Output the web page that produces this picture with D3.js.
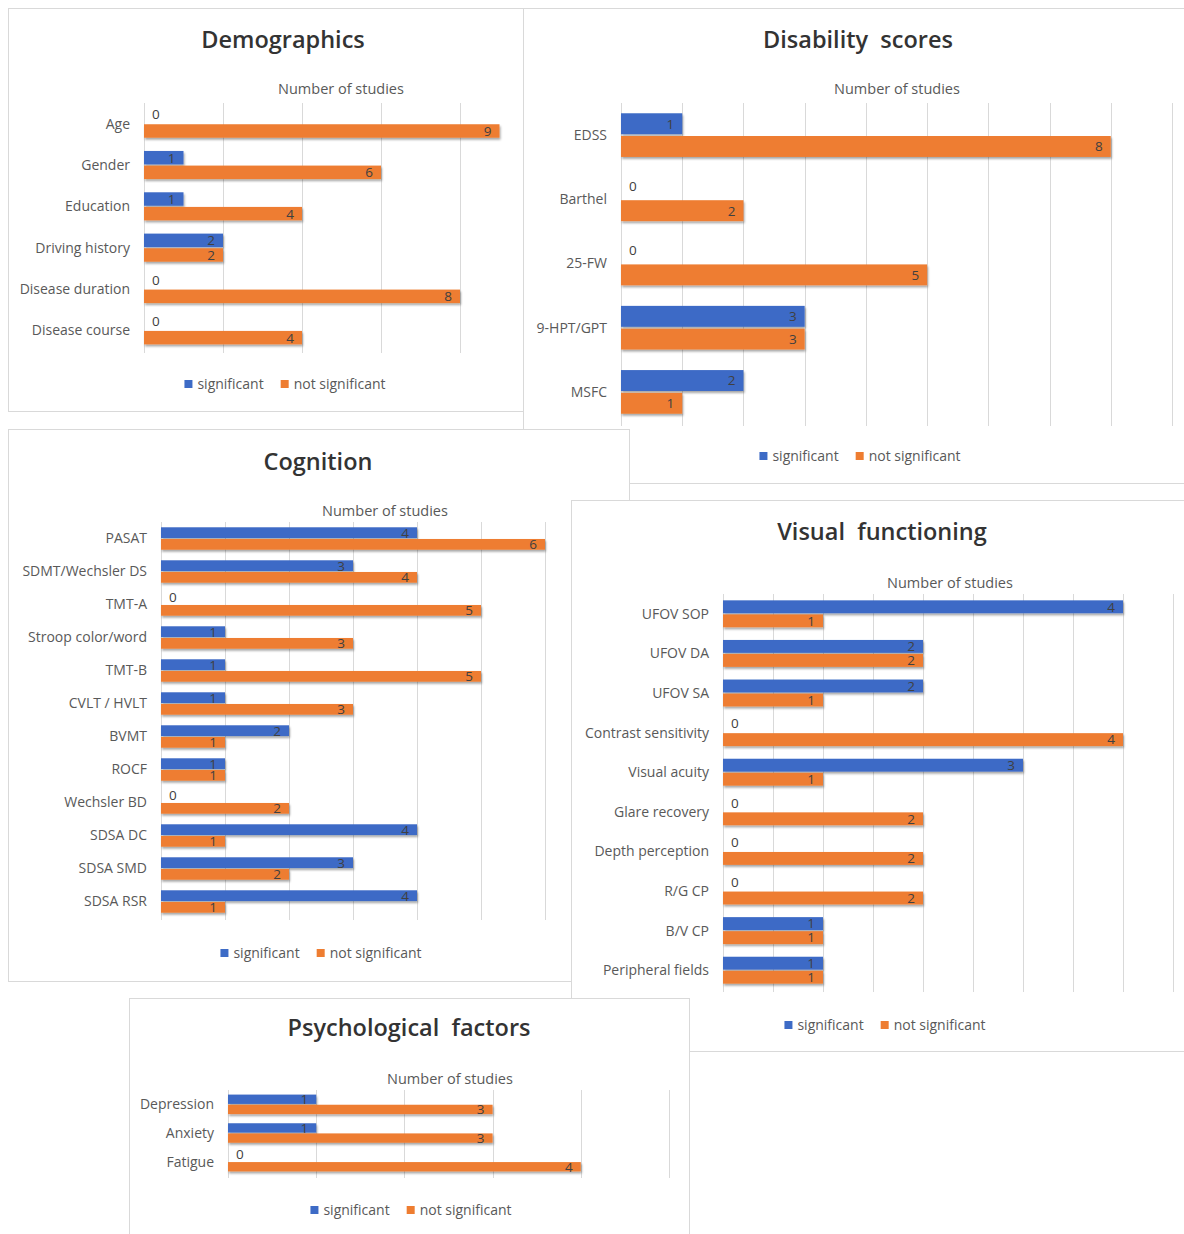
<!DOCTYPE html>
<html>
<head>
<meta charset="utf-8">
<script src="https://cdn.jsdelivr.net/npm/d3@7"></script>
<style>
  html, body { margin: 0; padding: 0; background: #fff; }
  svg { display: block; }
  text { font-family: "Open Sans", "DejaVu Sans", sans-serif; }
</style>
</head>
<body>
<svg id="chart" width="1184" height="1234"></svg>
<script>
// ---------- DATA ----------
const seriesNames = ["significant", "not significant"];

const demoCategories = ["Age", "Gender", "Education", "Driving history", "Disease duration", "Disease course"];
const demoSignificant = [0, 1, 1, 2, 0, 0];
const demoNotSignificant = [9, 6, 4, 2, 8, 4];

const disabilityCategories = ["EDSS", "Barthel", "25-FW", "9-HPT/GPT", "MSFC"];
const disabilitySignificant = [1, 0, 0, 3, 2];
const disabilityNotSignificant = [8, 2, 5, 3, 1];

const cognitionCategories = ["PASAT", "SDMT/Wechsler DS", "TMT-A", "Stroop color/word", "TMT-B", "CVLT / HVLT", "BVMT", "ROCF", "Wechsler BD", "SDSA DC", "SDSA SMD", "SDSA RSR"];
const cognitionSignificant = [4, 3, 0, 1, 1, 1, 2, 1, 0, 4, 3, 4];
const cognitionNotSignificant = [6, 4, 5, 3, 5, 3, 1, 1, 2, 1, 2, 1];

const visualCategories = ["UFOV SOP", "UFOV DA", "UFOV SA", "Contrast sensitivity", "Visual acuity", "Glare recovery", "Depth perception", "R/G CP", "B/V CP", "Peripheral fields"];
const visualSignificant = [4, 2, 2, 0, 3, 0, 0, 0, 1, 1];
const visualNotSignificant = [1, 2, 1, 4, 1, 2, 2, 2, 1, 1];

const psychCategories = ["Depression", "Anxiety", "Fatigue"];
const psychSignificant = [1, 1, 0];
const psychNotSignificant = [3, 3, 4];

const axisTitle = "Number of studies";

// ---------- LAYOUT ----------
const COLORS = ["#3D6BC6", "#EE7D31"];

const panels = [
  { title: "Demographics", cats: demoCategories, sig: demoSignificant, ns: demoNotSignificant,
    box: [8, 8, 515, 403], titleX: 283, titleY: 48, axX: 341, axY: 94,
    x0: 144, x1: 539, max: 10, step: 2, y0: 103, y1: 351, legendX: 285, legendY: 384 },
  { title: "Disability  scores", cats: disabilityCategories, sig: disabilitySignificant, ns: disabilityNotSignificant,
    box: [523, 8, 700, 475], titleX: 858, titleY: 48, axX: 897, axY: 94,
    x0: 621, x1: 1172, max: 9, step: 1, y0: 103, y1: 424, legendX: 860, legendY: 456 },
  { title: "Cognition", cats: cognitionCategories, sig: cognitionSignificant, ns: cognitionNotSignificant,
    box: [8, 429, 621, 552], titleX: 318, titleY: 470, axX: 385, axY: 516,
    x0: 161, x1: 545, max: 6, step: 1, y0: 522, y1: 918, legendX: 321, legendY: 953 },
  { title: "Visual  functioning", cats: visualCategories, sig: visualSignificant, ns: visualNotSignificant,
    box: [571, 500, 650, 551], titleX: 882, titleY: 540, axX: 950, axY: 588,
    x0: 723, x1: 1173, max: 4.5, step: 0.5, y0: 594, y1: 990, legendX: 885, legendY: 1025 },
  { title: "Psychological  factors", cats: psychCategories, sig: psychSignificant, ns: psychNotSignificant,
    box: [129, 998, 560, 260], titleX: 409, titleY: 1036, axX: 450, axY: 1084,
    x0: 228, x1: 669, max: 5, step: 1, y0: 1090, y1: 1176, legendX: 411, legendY: 1210 }
];

const svg = d3.select("#chart");
const defs = svg.append("defs");
const flt = defs.append("filter").attr("id", "shadow")
  .attr("x", "-5%").attr("y", "-30%").attr("width", "115%").attr("height", "180%");
flt.append("feDropShadow").attr("dx", 1).attr("dy", 2).attr("stdDeviation", 1.1)
  .attr("flood-color", "#000").attr("flood-opacity", 0.35);

svg.append("rect").attr("width", 1184).attr("height", 1234).attr("fill", "#fff");

panels.forEach((p, pi) => {
  const g = svg.append("g");
  const [bx, by, bw, bh] = p.box;
  const clipId = "clip" + pi;
  defs.append("clipPath").attr("id", clipId)
    .append("rect").attr("x", bx).attr("y", by).attr("width", bw).attr("height", bh);
  g.append("rect").attr("x", bx + 0.5).attr("y", by + 0.5).attr("width", bw).attr("height", bh)
    .attr("fill", "#fff").attr("stroke", "#d9d9d9").attr("stroke-width", 1);

  const inner = g.append("g").attr("clip-path", `url(#${clipId})`);

  const x = d3.scaleLinear().domain([0, p.max]).range([p.x0, p.x1]);
  const y = d3.scaleBand().domain(p.cats).range([p.y0, p.y1]);
  const sub = d3.scaleBand().domain(seriesNames).range([0.16, 0.84]).paddingInner(0.08);

  // gridlines
  const ticks = d3.range(0, p.max + 1e-9, p.step);
  inner.append("g").selectAll("line").data(ticks).join("line")
    .attr("x1", d => Math.round(x(d)) + 0.5).attr("x2", d => Math.round(x(d)) + 0.5)
    .attr("y1", p.y0).attr("y2", p.y1 + 2)
    .attr("stroke", "#d9d9d9").attr("stroke-width", 1);

  // title
  g.append("text").attr("x", p.titleX).attr("y", p.titleY).attr("text-anchor", "middle")
    .attr("font-size", 23.5).attr("font-weight", 600).attr("fill", "#333")
    .attr("xml:space", "preserve").style("white-space", "pre")
    .text(p.title);

  // axis title
  g.append("text").attr("x", p.axX).attr("y", p.axY).attr("text-anchor", "middle")
    .attr("font-size", 14.5).attr("fill", "#595959").text(axisTitle);

  // category labels
  g.append("g").selectAll("text").data(p.cats).join("text")
    .attr("x", p.x0 - 14).attr("y", d => y(d) + y.bandwidth() / 2)
    .attr("dy", "0.35em").attr("text-anchor", "end")
    .attr("font-size", 14).attr("fill", "#595959").text(d => d);

  // bars
  const rows = p.cats.map((c, i) => ({ cat: c, vals: [p.sig[i], p.ns[i]] }));
  rows.forEach(r => {
    r.vals.forEach((v, si) => {
      const s = seriesNames[si];
      const bt = y(r.cat) + sub(s) * y.bandwidth();
      const bhh = sub.bandwidth() * y.bandwidth();
      if (v > 0) {
        inner.append("rect").attr("x", x(0)).attr("y", bt)
          .attr("width", x(v) - x(0)).attr("height", bhh)
          .attr("fill", COLORS[si]).attr("filter", "url(#shadow)");
        inner.append("text").attr("x", x(v) - 8).attr("y", bt + bhh / 2)
          .attr("dy", "0.36em").attr("text-anchor", "end")
          .attr("font-size", 13.5).attr("fill", "#404040").text(v);
      } else {
        inner.append("text").attr("x", x(0) + 8).attr("y", bt + bhh / 2 - 2)
          .attr("dy", "0.36em").attr("text-anchor", "start")
          .attr("font-size", 13.5).attr("fill", "#404040").text(v);
      }
    });
  });

  // legend
  const lg = g.append("g");
  let cx = 0;
  seriesNames.forEach((s, si) => {
    lg.append("rect").attr("x", cx).attr("y", -4).attr("width", 8).attr("height", 8).attr("fill", COLORS[si]);
    const t = lg.append("text").attr("x", cx + 13).attr("y", 0).attr("dy", "0.35em")
      .attr("font-size", 14).attr("fill", "#595959").text(s);
    cx += 13 + t.node().getComputedTextLength() + 17;
  });
  const lw = cx - 17;
  lg.attr("transform", `translate(${p.legendX - lw / 2},${p.legendY})`);
});
</script>
</body>
</html>
